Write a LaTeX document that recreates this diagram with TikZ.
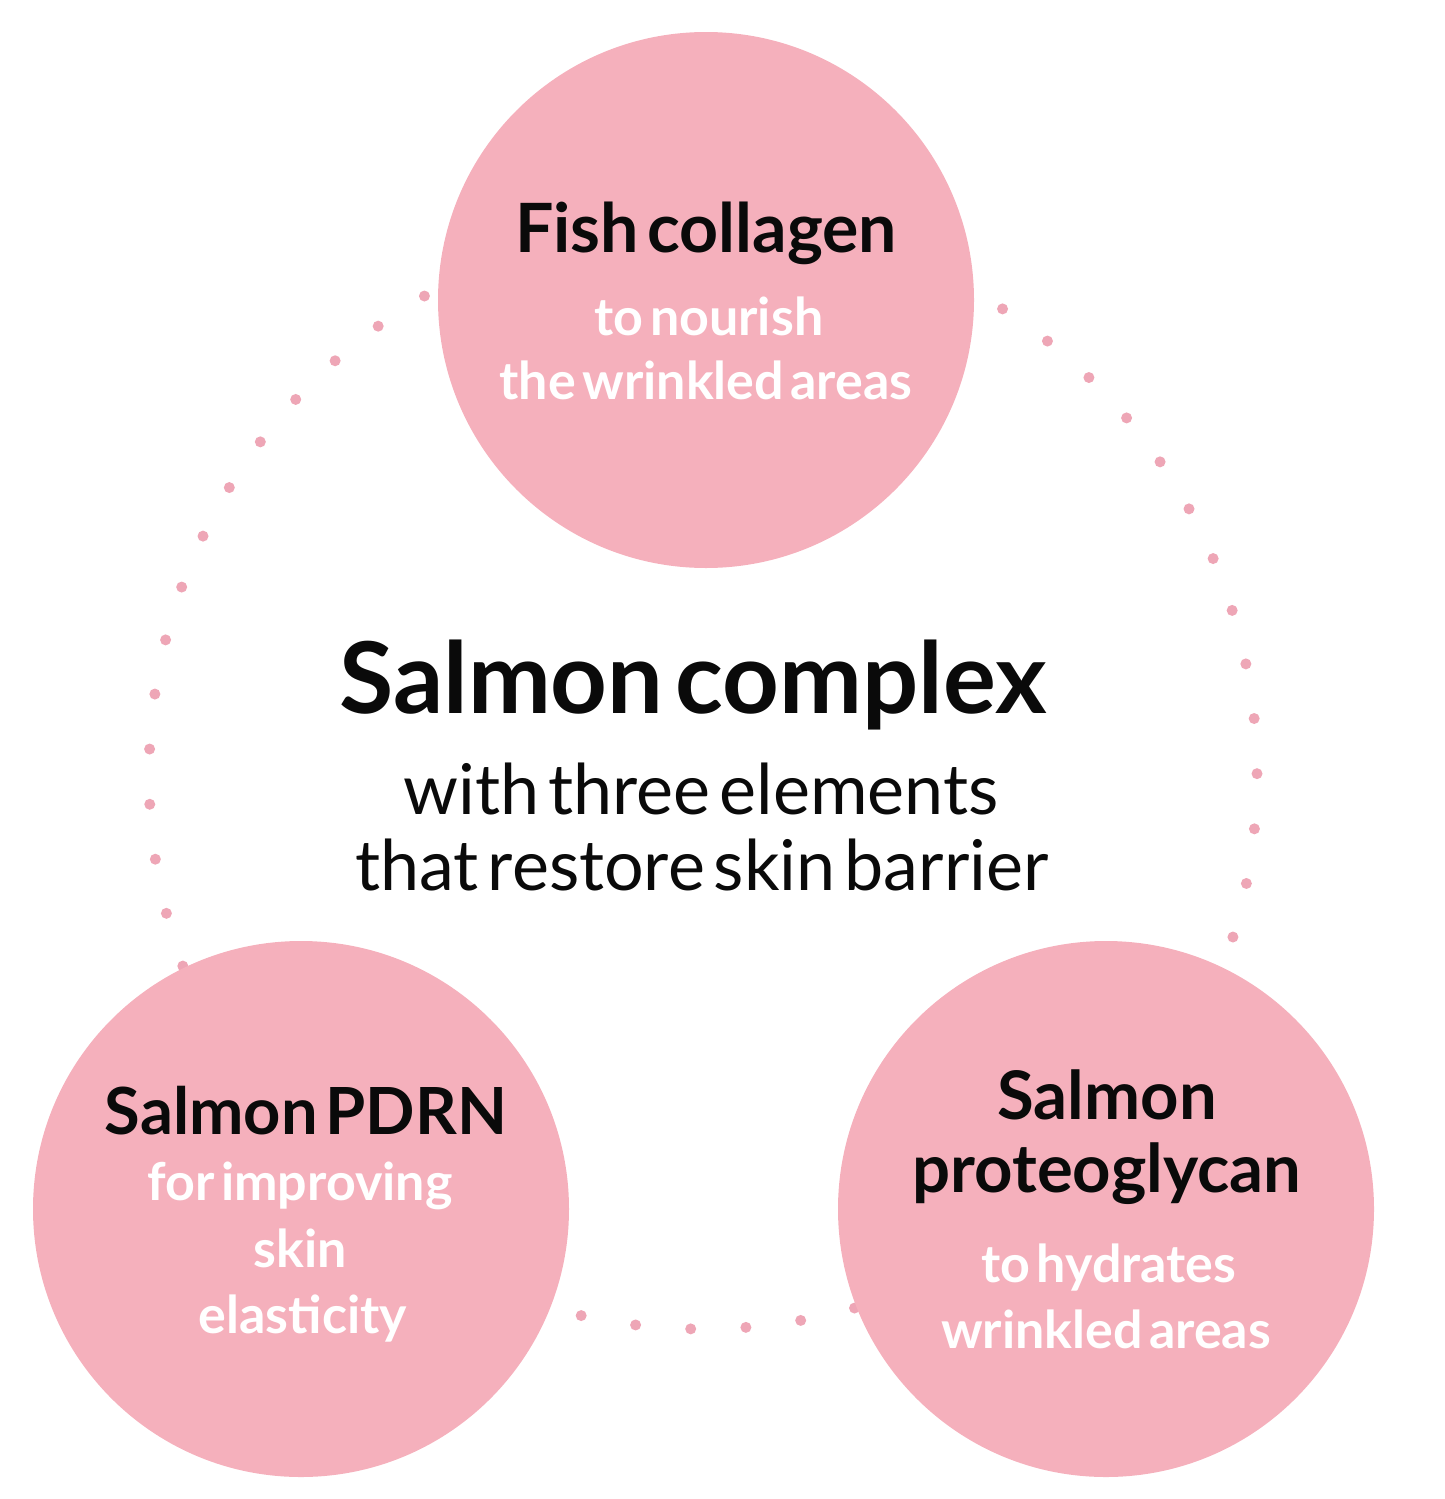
\documentclass[tikz,border=0pt]{standalone}
\usepackage{fontspec}
\setmainfont{Lato}[WordSpace=0.5]
\usepackage{xcolor}
\usetikzlibrary{positioning}
\definecolor{salmonpink}{RGB}{245,176,188}
\definecolor{dotpink}{RGB}{238,166,182}
\definecolor{inkblack}{RGB}{10,10,10}
\tikzset{
		blob/.style={circle, fill=salmonpink, minimum size=536pt, inner sep=0pt},
		headtxt/.style={font=\fontsize{68}{68}\selectfont\bfseries, text=inkblack, anchor=base, inner sep=0pt},
		subtxt/.style={font=\fontsize{52}{52}\selectfont\bfseries, text=white, anchor=base, inner sep=0pt},
		bodytxt/.style={font=\fontsize{70}{70}\selectfont, text=inkblack, anchor=base, inner sep=0pt},
		dotring/.style={draw=dotpink, line width=11pt, line cap=round, dash pattern=on 0pt off 55.25pt, dash phase=15pt}
	}

\begin{document}
\begin{tikzpicture}[x=1pt, y=-1pt]
		\useasboundingbox (0,0) rectangle (1445,1499);
		% dotted ring behind the three circles
		\coordinate (hub) at (703,775);
		\draw[dotring] ([shift={(270:554)}]hub) arc[start angle=270, delta angle=360, radius=554];
		\node[blob] (fish) at (706,300) {};
		\node[blob] (pdrn) at (301,1209) {};
		\node[blob] (proteo) at (1106,1209) {};
		% top circle
		\node[headtxt] (fishhead) at (706,252) {Fish collagen};
		\node[subtxt] (fishsub1) at (709,335) {to nourish};
		\node[subtxt] (fishsub2) at (706,399) {the wrinkled areas};
		% centre
		\node[headtxt, font=\fontsize{99}{99}\selectfont\bfseries] (title) at (693,713) {Salmon complex};
		\node[bodytxt] (title1) at (701,814) {with three elements};
		\node[bodytxt] (title2) at (702,890) {that restore skin barrier};
		% bottom left
		\node[headtxt, font=\fontsize{65}{65}\selectfont\bfseries] (pdrnhead) at (306,1134) {Salmon PDRN};
		\node[subtxt] (pdrnsub1) at (300,1200) {for improving};
		\node[subtxt] (pdrnsub2) at (300,1267) {skin};
		\node[subtxt] (pdrnsub3) at (303,1333) {elasticity};
		% bottom right
		\node[headtxt, font=\fontsize{67}{67}\selectfont\bfseries] (proteohead1) at (1107,1119) {Salmon};
		\node[headtxt, font=\fontsize{67}{67}\selectfont\bfseries] (proteohead2) at (1107,1192) {proteoglycan};
		\node[subtxt] (proteosub1) at (1109,1282) {to hydrates};
		\node[subtxt] (proteosub2) at (1106,1348) {wrinkled areas};
	\end{tikzpicture}
\end{document}
